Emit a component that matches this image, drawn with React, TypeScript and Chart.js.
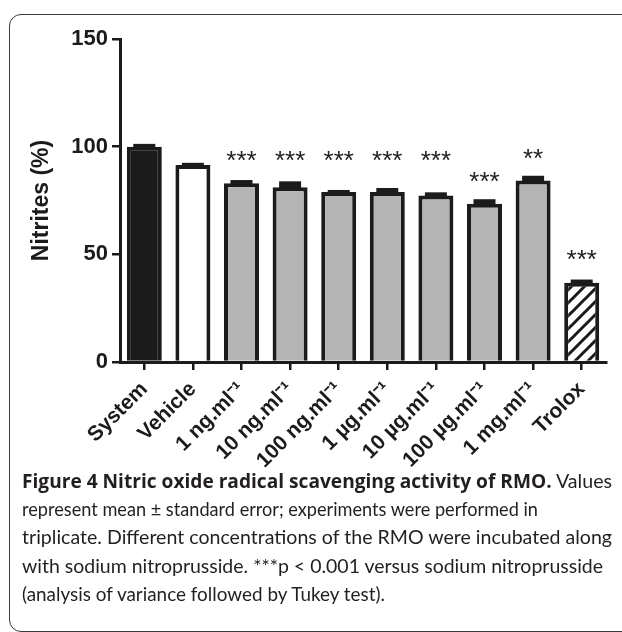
import React, { useEffect, useLayoutEffect, useRef } from "react";
import { Chart, registerables } from "chart.js";

Chart.register(...registerables);

const categories = [
  "System",
  "Vehicle",
  "1 ng.ml⁻¹",
  "10 ng.ml⁻¹",
  "100 ng.ml⁻¹",
  "1 µg.ml⁻¹",
  "10 µg.ml⁻¹",
  "100 µg.ml⁻¹",
  "1 mg.ml⁻¹",
  "Trolox",
];
const nitrites = [100, 91.5, 83, 81.2, 78.9, 78.9, 77.3, 73.5, 84.3, 36.8];
const stdErr = [0.6, 0.3, 0.8, 2, 0.3, 1.2, 0.8, 1.4, 1.5, 0.8];
const sigLabels = ["", "", "***", "***", "***", "***", "***", "***", "**", "***"];
const sigLevels = [0, 0, 95.5, 95.5, 95.5, 95.5, 95.5, 86, 96.5, 49.8];
const yTicks = [0, 50, 100, 150];

const INK = "#1b1b1b";
const FONT = "'Liberation Sans', Arial, sans-serif";

function hatch(): CanvasPattern | string {
  const c = document.createElement("canvas");
  c.width = 13;
  c.height = 13;
  const g = c.getContext("2d");
  if (!g) return "#fff";
  g.fillStyle = "#fff";
  g.fillRect(0, 0, 13, 13);
  g.strokeStyle = INK;
  g.lineWidth = 3;
  g.beginPath();
  g.moveTo(-2, 15);
  g.lineTo(15, -2);
  g.moveTo(-2, 2);
  g.lineTo(2, -2);
  g.moveTo(11, 15);
  g.lineTo(15, 11);
  g.stroke();
  return g.createPattern(c, "repeat") || "#fff";
}

const annotPlugin = {
  id: "annot",
  afterDatasetsDraw(chart: any) {
    const ctx = chart.ctx;
    const x = chart.scales.x;
    const y = chart.scales.y;
    ctx.save();
    nitrites.forEach((v, i) => {
      const cx = x.getPixelForValue(i);
      const y0 = y.getPixelForValue(v);
      const y1 = y.getPixelForValue(v + stdErr[i]);
      ctx.fillStyle = INK;
      ctx.fillRect(cx - 11, y1 - 1.5, 22, y0 - y1 + 3);
      if (sigLabels[i]) {
        ctx.font = "26px " + FONT;
        ctx.textAlign = "center";
        ctx.textBaseline = "alphabetic";
        ctx.fillStyle = "#222";
        ctx.fillText(sigLabels[i], cx, y.getPixelForValue(sigLevels[i]) + 13);
      }
    });
    ctx.restore();
  },
};

function NitriteChart() {
  const ref = useRef<HTMLCanvasElement>(null);
  useEffect(() => {
    if (!ref.current) return;
    const fills = categories.map((_, i) =>
      i === 0 ? INK : i === 1 ? "#ffffff" : i === 9 ? hatch() : "#b4b4b4"
    );
    const chart = new Chart(ref.current, {
      type: "bar",
      data: {
        labels: categories,
        datasets: [
          {
            data: nitrites,
            backgroundColor: fills as any,
            borderColor: INK,
            borderWidth: 4,
            borderSkipped: "start",
            barPercentage: 0.72,
            categoryPercentage: 1,
          },
        ],
      },
      options: {
        animation: false,
        responsive: false,
        devicePixelRatio: 1,
        layout: { padding: { left: 8, top: 39, right: 16, bottom: 0 } },
        plugins: { legend: { display: false }, tooltip: { enabled: false } },
        scales: {
          x: {
            offset: true,
            grid: {
              offset: false,
              drawOnChartArea: false,
              drawTicks: true,
              tickLength: 8,
              color: INK,
              lineWidth: 2.5,
            },
            border: { display: true, color: INK, width: 3 },
            ticks: {
              color: INK,
              minRotation: 45,
              maxRotation: 45,
              autoSkip: false,
              padding: 7,
              font: { family: FONT, size: 21, weight: "bold" },
            },
            afterFit: (s: any) => {
              s.height = 114;
            },
          },
          y: {
            min: 0,
            max: 150,
            afterBuildTicks: (s: any) => {
              s.ticks = yTicks.map((v) => ({ value: v }));
            },
            grid: {
              drawOnChartArea: false,
              drawTicks: true,
              tickLength: 8,
              color: INK,
              lineWidth: 2.5,
            },
            border: { display: true, color: INK, width: 3 },
            ticks: {
              color: INK,
              padding: 4,
              font: { family: FONT, size: 22, weight: "bold" },
            },
            title: {
              display: true,
              text: "Nitrites (%)",
              color: INK,
              padding: { top: 20, bottom: 0 },
              font: { family: FONT, size: 23, weight: "bold" },
            },
            afterFit: (s: any) => {
              s.width = 112;
            },
          },
        },
      },
      plugins: [annotPlugin],
    });
    return () => chart.destroy();
  }, []);
  return (
    <canvas
      ref={ref}
      width={622}
      height={476}
      style={{ position: "absolute", left: 0, top: 0, width: 622, height: 476 }}
    />
  );
}

const boldStyle: React.CSSProperties = {
  fontFamily: "'Open Sans', sans-serif",
  fontWeight: 700,
  fontSize: 19,
};

const captionLines: React.ReactNode[] = [
  <>
    <span style={boldStyle}>Figure 4 Nitric oxide radical scavenging activity of RMO.</span> Values
  </>,
  <>represent mean ± standard error; experiments were performed in</>,
  <>triplicate. Different concentrations of the RMO were incubated along</>,
  <>with sodium nitroprusside. ***p &lt; 0.001 versus sodium nitroprusside</>,
  <>(analysis of variance followed by Tukey test).</>,
];
const captionWidths = [590, 516, 590, 581, 363];

function Caption() {
  const refs = useRef<(HTMLSpanElement | null)[]>([]);
  useLayoutEffect(() => {
    const fit = () => {
      refs.current.forEach((el, i) => {
        if (!el) return;
        el.style.transform = "none";
        const w = el.getBoundingClientRect().width;
        if (w > 0) el.style.transform = `scaleX(${captionWidths[i] / w})`;
      });
    };
    fit();
    (document as any).fonts?.ready?.then(fit);
  }, []);
  return (
    <div
      style={{
        position: "absolute",
        left: 22,
        top: 467,
        fontFamily: "Lato, sans-serif",
        fontSize: 19.5,
        lineHeight: "28.2px",
        color: "#231f20",
        whiteSpace: "nowrap",
      }}
    >
      {captionLines.map((l, i) => (
        <div key={i}>
          <span
            ref={(el) => {
              refs.current[i] = el;
            }}
            style={{ display: "inline-block", transformOrigin: "0 0" }}
          >
            {l}
          </span>
        </div>
      ))}
    </div>
  );
}

export default function App() {
  return (
    <div
      style={{
        position: "fixed",
        left: 0,
        top: 0,
        width: 622,
        height: 632,
        overflow: "hidden",
        background: "#fff",
      }}
    >
      <div
        style={{
          position: "absolute",
          left: 9,
          top: 14,
          width: 640,
          height: 616,
          border: "1.5px solid #3a3a3a",
          borderRadius: 12,
        }}
      />
      <NitriteChart />
      <Caption />
    </div>
  );
}
